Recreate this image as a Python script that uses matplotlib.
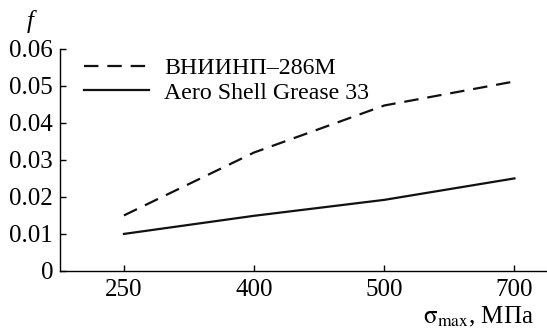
import matplotlib
matplotlib.use('Agg')
import matplotlib.pyplot as plt

plt.rcParams['font.family'] = ['Liberation Serif', 'DejaVu Serif']
plt.rcParams['mathtext.fontset'] = 'stix'

sigma_labels = ['250', '400', '500', '700']
vniinp = [0.015, 0.032, 0.0447, 0.0512]
aeroshell = [0.010, 0.0149, 0.0192, 0.025]
names = ['ВНИИНП–286М', 'Aero Shell Grease 33']

pos = list(range(len(sigma_labels)))

fig = plt.figure(figsize=(5.47, 3.28), dpi=100)
ax = fig.add_axes([0.11, 0.174, 0.89, 0.677])

ax.plot(pos, vniinp, color='#111111', lw=1.6, dashes=(6.5, 4), label=names[0])
ax.plot(pos, aeroshell, color='#111111', lw=1.6, label=names[1])

ax.set_xlim(-0.49, 3.25)
ax.set_ylim(0, 0.06)
ax.set_xticks(pos)
ax.set_xticklabels(sigma_labels)
ax.set_yticks([0, 0.01, 0.02, 0.03, 0.04, 0.05, 0.06])
ax.set_yticklabels(['0', '0.01', '0.02', '0.03', '0.04', '0.05', '0.06'])
ax.tick_params(direction='in', length=4, width=1, labelsize=18, pad=5)
ax.tick_params(axis='x', pad=6)
for s in ['top', 'right']:
    ax.spines[s].set_visible(False)
for s in ['left', 'bottom']:
    ax.spines[s].set_linewidth(1)

ax.legend(loc='upper left', bbox_to_anchor=(0.03, 1.005), frameon=False,
          fontsize=17.2, handlelength=2.7, handletextpad=0.65, labelspacing=0.12,
          borderaxespad=0)

fig.text(0.055, 0.935, 'f', fontsize=18, style='italic', ha='center', va='center')
fig.text(0.975, 0.035, r'$\mathrm{\sigma}_{\mathrm{max}}$, МПа', fontsize=18,
         ha='right', va='center')

fig.savefig('out.png', dpi=100)
